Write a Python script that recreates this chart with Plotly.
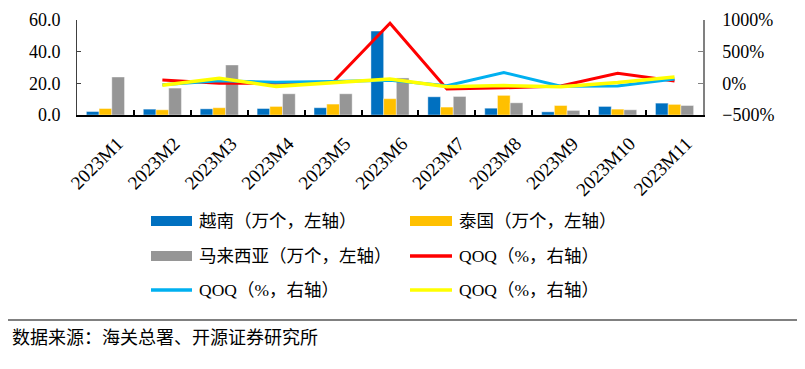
import plotly.graph_objects as go

months = ["2023M1", "2023M2", "2023M3", "2023M4", "2023M5", "2023M6",
          "2023M7", "2023M8", "2023M9", "2023M10", "2023M11"]
vietnam = [2.2, 3.7, 3.9, 4.1, 4.6, 53.0, 11.5, 4.3, 2.0, 5.4, 7.5]
thailand = [4.1, 3.3, 4.6, 5.4, 6.9, 10.3, 5.0, 12.4, 6.0, 3.7, 6.7]
malaysia = [24.0, 17.0, 31.6, 13.4, 13.4, 23.4, 11.7, 7.7, 2.9, 3.3, 6.0]
qoq_vietnam = [None, 52, 0, 5, 15, 950, -90, -70, -43, 158, 36]
qoq_thailand = [None, -22, 40, 18, 28, 50, -38, 172, -45, -42, 70]
qoq_malaysia = [None, -30, 80, -48, 5, 70, -52, -36, -55, 12, 100]

names = ["越南（万个，左轴）", "泰国（万个，左轴）", "马来西亚（万个，左轴）",
         "QOQ（%，右轴）", "QOQ（%，右轴）", "QOQ（%，右轴）"]
colors = ["#0070C0", "#FFC000", "#969696", "#FF0000", "#00B0F0", "#FFFF00"]
source_text = "数据来源：海关总署、开源证券研究所"

# page body has an 8px default margin; work in window pixels and subtract it
OFF = 8
W, H = 805 - OFF, 369 - OFF
L, R, T, B = 77 - OFF, 703 - OFF, 20 - OFF, 115 - OFF

fig = go.Figure()
for vals, c, n in zip([vietnam, thailand, malaysia], colors[:3], names[:3]):
    fig.add_trace(go.Bar(x=months, y=vals, name=n, marker_color=c,
                         marker_line_color="rgba(255,255,255,0.7)", marker_line_width=0.6,
                         showlegend=False))
for vals, c, n, w in zip([qoq_vietnam, qoq_thailand, qoq_malaysia], colors[3:], names[3:], [3, 3, 3.5]):
    fig.add_trace(go.Scatter(x=months, y=vals, name=n, yaxis="y2", mode="lines",
                             line=dict(color=c, width=w), showlegend=False))

serif = "Liberation Serif, 'Times New Roman', 'Noto Sans CJK SC', serif"
cjk = "'Liberation Serif', 'Noto Sans CJK SC', sans-serif"


def px_x(x):
    return (x - OFF - L) / (R - L)


def px_y(y):
    return (B - (y - OFF)) / (B - T)


shapes = []
annotations = []
cols = [(151, 192, 197), (410, 452, 457)]
rows = [221, 256, 290]
for i, (n, c) in enumerate(zip(names, colors)):
    r, col = divmod(i, 2)
    x0, x1, xt = cols[col]
    yc = rows[r]
    if i < 3:
        shapes.append(dict(type="rect", xref="paper", yref="paper",
                           x0=px_x(x0), x1=px_x(x1), y0=px_y(yc + 5), y1=px_y(yc - 5),
                           fillcolor=c, line=dict(width=0)))
    else:
        shapes.append(dict(type="line", xref="paper", yref="paper",
                           x0=px_x(x0), x1=px_x(x1), y0=px_y(yc), y1=px_y(yc),
                           line=dict(color=c, width=3.5)))
    annotations.append(dict(text=n, xref="paper", yref="paper", x=px_x(xt), y=px_y(yc),
                            xanchor="left", yanchor="middle", showarrow=False,
                            font=dict(family=cjk, size=17.5, color="black")))

shapes.append(dict(type="line", xref="paper", yref="paper",
                   x0=px_x(8), x1=px_x(800), y0=px_y(320), y1=px_y(320),
                   line=dict(color="#808080", width=2)))
annotations.append(dict(text=source_text, xref="paper", yref="paper", x=px_x(10), y=px_y(336),
                        xanchor="left", yanchor="middle", showarrow=False,
                        font=dict(family="'Noto Sans CJK SC', sans-serif", size=18, color="black")))

fig.update_layout(
    width=W, height=H,
    margin=dict(l=L, r=W - R, t=T, b=H - B, pad=0, autoexpand=False),
    paper_bgcolor="white", plot_bgcolor="white",
    barmode="group", bargap=0.33, bargroupgap=0,
    showlegend=False,
    xaxis=dict(type="category", tickson="boundaries", ticks="inside", ticklen=5,
               tickcolor="black", tickwidth=1.5, showline=True, linecolor="black", linewidth=2,
               tickangle=-45, tickfont=dict(family=serif, size=19, color="black"),
               showgrid=False, ticklabelstandoff=8, ticklabelshift=12, automargin=False),
    yaxis=dict(range=[0, 60], dtick=20, tickformat=".1f", showline=True, linecolor="#404040",
               linewidth=1, ticks="inside", ticklen=4, tickcolor="#404040", showgrid=False,
               zeroline=False, tickfont=dict(family=serif, size=18, color="black"),
               ticklabelstandoff=12, automargin=False),
    yaxis2=dict(range=[-500, 1000], dtick=500, ticksuffix="%", overlaying="y", side="right",
                showline=True, linecolor="#808080", linewidth=1.5, ticks="inside", ticklen=5,
                tickcolor="#808080", showgrid=False, zeroline=False,
                tickfont=dict(family=serif, size=18, color="black"), ticklabelstandoff=14,
                automargin=False),
    shapes=shapes, annotations=annotations,
)

fig.write_html("out.html")
